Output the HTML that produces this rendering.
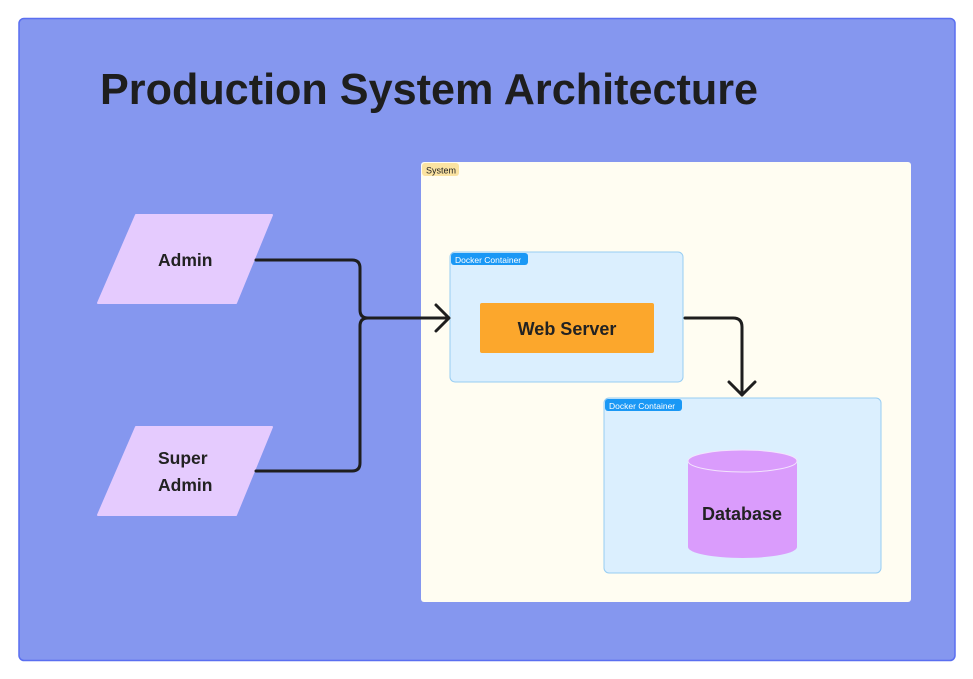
<!DOCTYPE html>
<html><head><meta charset="utf-8"><style>
html,body{margin:0;padding:0;background:#fff;}
svg{display:block;font-family:"Liberation Sans",sans-serif;}
</style></head><body>
<svg width="973" height="679" viewBox="0 0 973 679" xmlns="http://www.w3.org/2000/svg">
<rect x="19" y="18.5" width="936" height="642" rx="5" fill="#8597ef" stroke="#5a6ff0" stroke-width="1.5"/>
<text x="100" y="104" font-size="44" font-weight="bold" fill="#1e1e1e" textLength="658" lengthAdjust="spacingAndGlyphs">Production System Architecture</text>
<rect x="421" y="162" width="490" height="440" rx="3" fill="#fffdf2"/>
<rect x="422" y="163" width="37" height="13" rx="3" fill="#fbe3a2"/>
<text x="426" y="173.5" font-size="9" fill="#222">System</text>
<rect x="450" y="252" width="233" height="130" rx="5" fill="#dbeffe" stroke="#97cdf3" stroke-width="1"/>
<rect x="451" y="253" width="77" height="12" rx="3" fill="#1a98f5"/>
<text x="455" y="263" font-size="8.5" fill="#fff">Docker Container</text>
<rect x="480" y="303" width="174" height="50" rx="2" fill="#fca72c"/>
<text x="567" y="335" font-size="18" font-weight="bold" fill="#222" text-anchor="middle">Web Server</text>
<rect x="604" y="398" width="277" height="175" rx="5" fill="#dbeffe" stroke="#97cdf3" stroke-width="1"/>
<rect x="605" y="399" width="77" height="12" rx="3" fill="#1a98f5"/>
<text x="609" y="409" font-size="8.5" fill="#fff">Docker Container</text>
<path d="M688 461 L688 547 A54.5 11 0 0 0 797 547 L797 461 Z" fill="#da9cfc"/>
<ellipse cx="742.5" cy="461" rx="54.5" ry="11" fill="#da9cfc" stroke="#f3e4fd" stroke-width="1"/>
<text x="742" y="520" font-size="18" font-weight="bold" fill="#222" text-anchor="middle">Database</text>
<polygon points="136,215 272,215 236,303 98,303" fill="#e5cbfe" stroke="#e5cbfe" stroke-width="2" stroke-linejoin="round"/>
<text x="158" y="266" font-size="17.5" font-weight="bold" fill="#222">Admin</text>
<polygon points="136,427 272,427 236,515 98,515" fill="#e5cbfe" stroke="#e5cbfe" stroke-width="2" stroke-linejoin="round"/>
<text x="158" y="464" font-size="17.5" font-weight="bold" fill="#222">Super</text>
<text x="158" y="491" font-size="17.5" font-weight="bold" fill="#222">Admin</text>
<g fill="none" stroke="#1e1e1e" stroke-width="3" stroke-linecap="round" stroke-linejoin="round">
<path d="M256 260 L352 260 Q360 260 360 268 L360 310 Q360 318 368 318 L448 318"/>
<path d="M256 471 L352 471 Q360 471 360 463 L360 326 Q360 318 368 318"/>
<path d="M436 305 L449 318 L436 331"/>
<path d="M685 318 L733 318 Q742 318 742 327 L742 395"/>
<path d="M729 382 L742 395 L755 382"/>
</g>
</svg>
</body></html>
